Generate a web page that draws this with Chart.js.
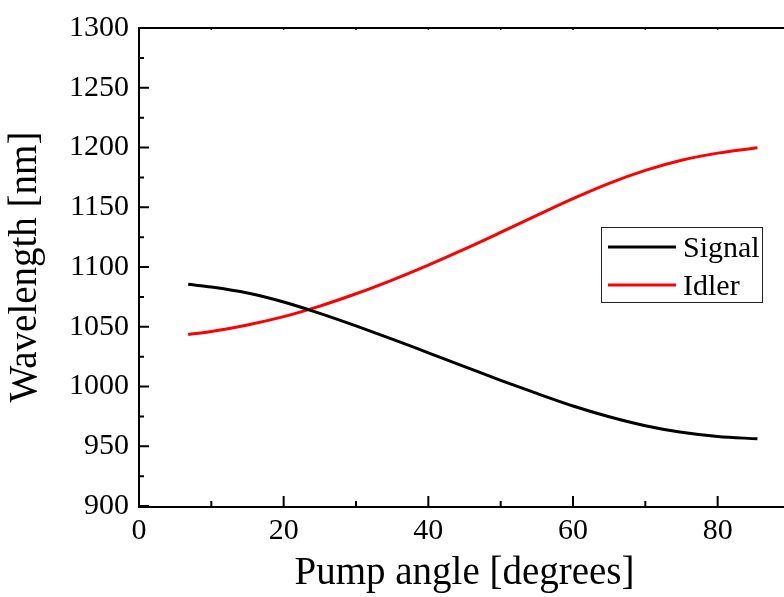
<!DOCTYPE html>
<html>
<head>
<meta charset="utf-8">
<title>Signal and idler wavelength vs pump angle</title>
<script src="https://cdn.jsdelivr.net/npm/chart.js@4.4.0/dist/chart.umd.min.js"></script>
<style>
  html, body { margin: 0; padding: 0; background: #fff; overflow: hidden; }
  #wrap { width: 784px; height: 597px; overflow: hidden; }
</style>
</head>
<body>
<div id="wrap"><canvas id="myChart" width="790" height="597"></canvas></div>
<script>
// pump angle in degrees
const angles = [6.8, 10, 15, 20, 25, 30, 35, 40, 45, 50, 55, 60, 65, 70, 75, 80, 85.5];
// wavelengths in nm
const signalNm = [1085.5, 1083.2, 1078.2, 1070.7, 1061.2, 1050.7, 1039.7, 1028.2, 1016.7, 1005.2, 994.2, 983.7, 974.7, 967.2, 961.7, 958.2, 956.2];
const idlerNm = [1043.5, 1046, 1051.5, 1058.5, 1067.3, 1077.6, 1089.1, 1101.6, 1114.9, 1128.9, 1143.2, 1157.2, 1170, 1180.8, 1189.3, 1195.3, 1199.8];

const xTicks = [0, 20, 40, 60, 80];
const xMinorTicks = [10, 30, 50, 70];
const yTicks = [900, 950, 1000, 1050, 1100, 1150, 1200, 1250, 1300];
const yMinorTicks = [925, 975, 1025, 1075, 1125, 1175, 1225, 1275];

const FONT = '"Liberation Serif", "Times New Roman", serif';

const toPoints = (ys) => angles.map((a, i) => ({ x: a, y: ys[i] }));

// axis frame with inward tick marks
const framePlugin = {
  id: 'frame',
  afterDraw(chart) {
    const { ctx, chartArea: a, scales: { x, y } } = chart;
    ctx.save();
    ctx.strokeStyle = '#000';
    ctx.lineWidth = 2;
    ctx.beginPath();
    ctx.moveTo(a.left, a.top);
    ctx.lineTo(a.right, a.top);
    ctx.moveTo(a.left, a.top - 1);
    ctx.lineTo(a.left, a.bottom + 1);
    ctx.lineTo(a.right, a.bottom + 1);
    // y ticks
    yTicks.forEach(v => { const p = y.getPixelForValue(v); ctx.moveTo(a.left, p); ctx.lineTo(a.left + 10, p); });
    yMinorTicks.forEach(v => { const p = y.getPixelForValue(v); ctx.moveTo(a.left, p); ctx.lineTo(a.left + 5, p); });
    // x ticks
    xTicks.forEach(v => { const p = x.getPixelForValue(v); ctx.moveTo(p, a.bottom); ctx.lineTo(p, a.bottom - 10); });
    xMinorTicks.forEach(v => { const p = x.getPixelForValue(v); ctx.moveTo(p, a.bottom); ctx.lineTo(p, a.bottom - 5); });
    ctx.stroke();
    // tiny marks on the top edge
    ctx.lineWidth = 1.5;
    ctx.beginPath();
    xTicks.concat(xMinorTicks).forEach(v => { const p = x.getPixelForValue(v); ctx.moveTo(p, a.top); ctx.lineTo(p, a.top + 2); });
    ctx.stroke();
    ctx.restore();
  }
};

// boxed legend inside the plot
const legendBox = {
  id: 'legendBox',
  afterDraw(chart) {
    const { ctx } = chart;
    const bx = 601, by = 227, bw = 161, bh = 75;
    ctx.save();
    ctx.fillStyle = '#fff';
    ctx.fillRect(bx, by, bw, bh);
    ctx.strokeStyle = '#222';
    ctx.lineWidth = 1;
    ctx.strokeRect(bx + 0.5, by + 0.5, bw, bh);
    ctx.font = '30px ' + FONT;
    ctx.textBaseline = 'alphabetic';
    ctx.textAlign = 'left';
    chart.data.datasets.forEach((ds, i) => {
      const ly = 247 + i * 38;
      ctx.strokeStyle = ds.borderColor;
      ctx.lineWidth = 3;
      ctx.beginPath();
      ctx.moveTo(608, ly);
      ctx.lineTo(676, ly);
      ctx.stroke();
      ctx.fillStyle = '#000';
      ctx.fillText(ds.label, 683, ly + 10);
    });
    ctx.restore();
  }
};

new Chart(document.getElementById('myChart'), {
  type: 'line',
  data: {
    datasets: [
      { label: 'Signal', data: toPoints(signalNm), borderColor: '#000', borderWidth: 3, pointRadius: 0, cubicInterpolationMode: 'monotone', fill: false },
      { label: 'Idler', data: toPoints(idlerNm), borderColor: '#ff0000', borderWidth: 3, pointRadius: 0, cubicInterpolationMode: 'monotone', fill: false }
    ]
  },
  options: {
    responsive: false,
    animation: false,
    layout: { padding: { top: 25, right: 0, left: 0, bottom: 0 } },
    plugins: { legend: { display: false }, tooltip: { enabled: false } },
    scales: {
      x: {
        type: 'linear',
        min: 0,
        max: 90,
        grid: { display: false, drawTicks: false },
        border: { display: false },
        afterBuildTicks: (s) => { s.ticks = xTicks.map(v => ({ value: v })); },
        afterFit: (s) => { s.height = 91; },
        ticks: { color: '#000', font: { family: FONT, size: 30 }, padding: 7, maxRotation: 0, callback: (v) => String(v) },
        title: { display: true, text: 'Pump angle [degrees]', color: '#000', font: { family: FONT, size: 39 }, padding: { top: 0, bottom: 0 } }
      },
      y: {
        min: 900,
        max: 1300,
        grid: { display: false, drawTicks: false },
        border: { display: false },
        afterBuildTicks: (s) => { s.ticks = yTicks.map(v => ({ value: v })); },
        afterFit: (s) => { s.width = 139; },
        ticks: { color: '#000', font: { family: FONT, size: 30 }, padding: 10, callback: (v) => String(v) },
        title: { display: true, text: 'Wavelength [nm]', color: '#000', font: { family: FONT, size: 39 }, padding: { top: 2, bottom: 0 } }
      }
    }
  },
  plugins: [framePlugin, legendBox]
});
</script>
</body>
</html>
